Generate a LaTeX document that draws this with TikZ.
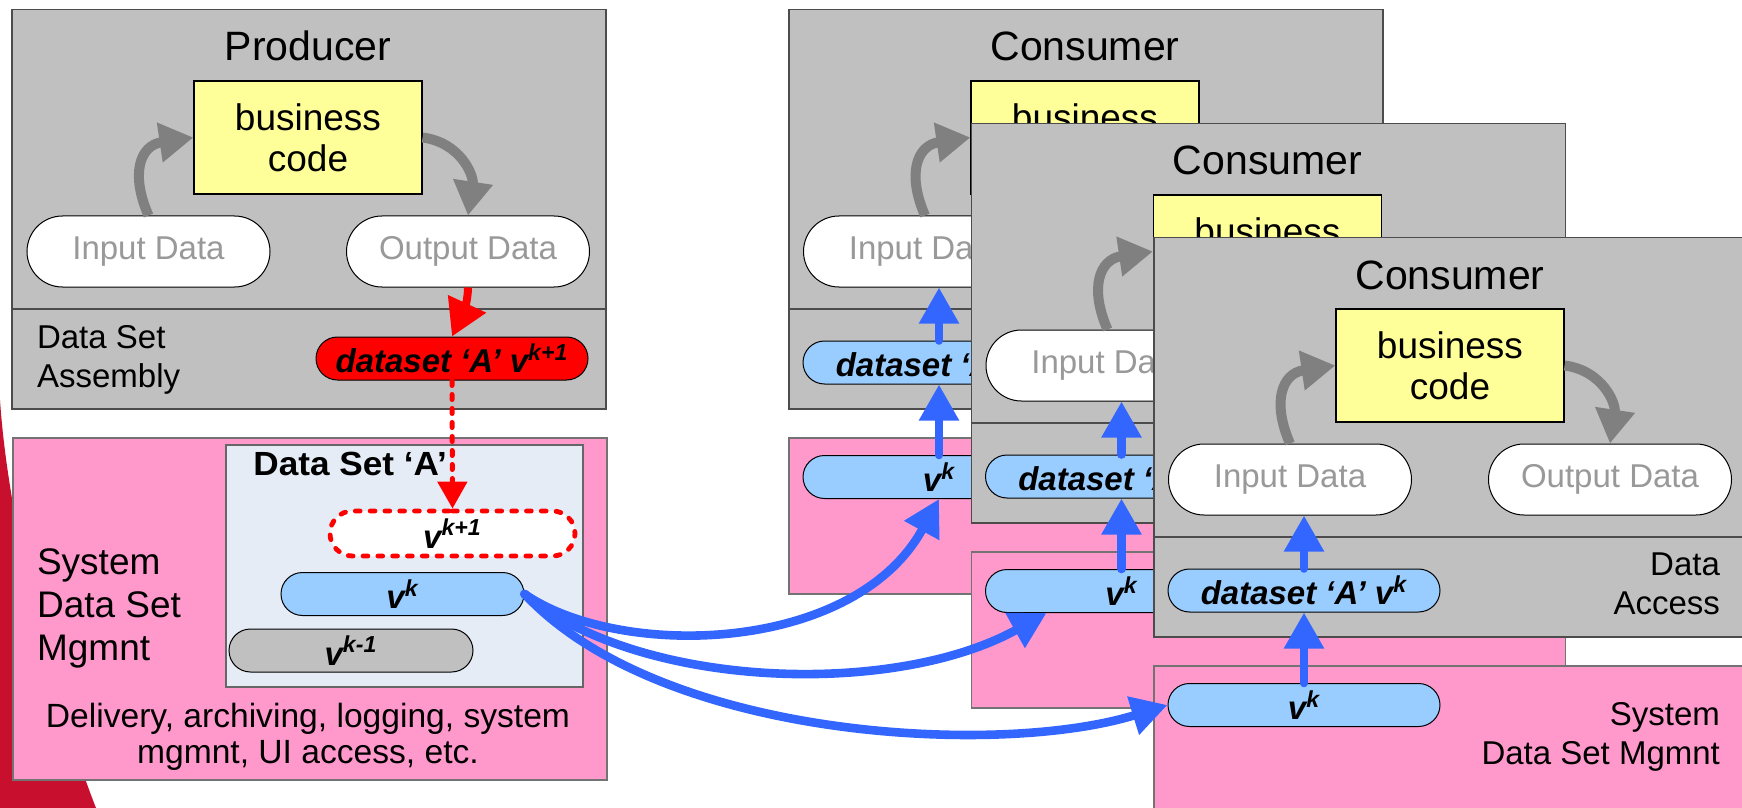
\documentclass[tikz,border=0pt]{standalone}
\usepackage{graphicx}
\usepackage{fontspec}
\setmainfont{Liberation Sans}
\usetikzlibrary{arrows.meta,shapes.misc,calc}

\definecolor{boxgray}{HTML}{C0C0C0}
\definecolor{codeyellow}{HTML}{FFFF99}
\definecolor{mgmtpink}{HTML}{FF99CC}
\definecolor{verblue}{HTML}{99CCFF}
\definecolor{flowblue}{HTML}{3366FF}
\definecolor{setbg}{HTML}{E6ECF6}
\definecolor{cyclegray}{HTML}{808080}
\definecolor{datatext}{HTML}{999999}
\definecolor{swoosh}{HTML}{C8102E}

\newcommand\fTitle{\fontsize{20.5}{24}\selectfont}
\newcommand\fCode{\fontsize{18.5}{20.5}\selectfont}
\newcommand\fData{\fontsize{16.5}{19}\selectfont}
\newcommand\fSide{\fontsize{16.5}{19.2}\selectfont}
\newcommand\fMgmt{\fontsize{18.5}{21.3}\selectfont}
\newcommand\fNote{\fontsize{16.8}{18}\selectfont}
\newcommand\fPill{\fontsize{16.5}{19}\selectfont\bfseries\itshape}
\newcommand\ver[1]{v\textsuperscript{#1}}

\tikzset{
  panel/.style={draw=black!70, line width=0.75pt, inner sep=0pt, anchor=north west,
    minimum width=297pt},
  graypanel/.style={panel, fill=boxgray, minimum height=199.5pt},
  pinkpanel/.style={panel, fill=mgmtpink, draw=black!55},
  rule/.style={draw=black!70, line width=0.75pt},
  codebox/.style={draw=black, line width=0.6pt, fill=codeyellow, minimum width=114pt,
    minimum height=56.5pt, align=center, font=\fCode, inner sep=0pt},
  pill/.style={rounded rectangle, draw=black, line width=0.5pt, inner sep=0pt},
  datapill/.style={pill, fill=white, minimum width=121.5pt, minimum height=35.5pt,
    text=datatext, font=\fData},
  verpill/.style={pill, fill=verblue, minimum width=121.5pt, minimum height=21.5pt,
    font=\fPill},
  bluearrow/.style={draw=flowblue, line width=4.3pt, line cap=round,
    -{Triangle[length=18pt,width=19pt]}},
  redarrow/.style={draw=red, line width=4pt,
    -{Triangle[length=18pt,width=20pt]}},
  reddots/.style={draw=red, line width=2.5pt, line cap=round, dash pattern=on 2.5pt off 4.5pt,
    -{Triangle[length=13.5pt,width=14.5pt]}},
  grayarrow/.style={draw=cyclegray, line width=5pt,
    -{Triangle[length=17pt,width=19pt]}},
}

\begin{document}
\begin{tikzpicture}[x=0.5pt,y=-0.5pt]
\path[use as bounding box, fill=white] (0,0) rectangle (1742,808);

% red swoosh behind the producer side
\fill[swoosh] (0,400) .. controls (8,520) and (50,690) .. (96,808) -- (0,808) -- cycle;

% ---------------- Producer ----------------
\node[graypanel] (prod) at (11,9) {};
\draw[rule] (11,309) -- (605,309);
\node[font=\fTitle, anchor=base] (prod-title) at (308,61) {Producer};
\node[codebox] (prod-code) at (308,137.5) {business\\code};
\node[datapill] (prod-in) at (148.5,251.5) {Input Data};
\node[datapill] (prod-out) at (468,251.5) {Output Data};
\node[font=\fSide, align=left, anchor=base west] (prod-assembly) at (30,387) {Data Set\\Assembly};
\node[pill, fill=red, minimum width=136pt, minimum height=21.5pt, font=\fPill] (prod-new) at (452,358.5) {dataset ‘A’ \ver{k+1}};

\draw[grayarrow] (prod-in.north) .. controls +(-18,-41) and +(-54,8) .. (prod-code.west);
\draw[grayarrow] (prod-code.east) .. controls +(38,5) and +(6,-40) .. (prod-out.north);
\draw[redarrow] (prod-out.south) .. controls +(0,12) and +(12,-26) .. (prod-new.north);

% system data set management of the producer
\node[pinkpanel, minimum height=171pt] (prod-mgmt) at (12,437) {};
\node[panel, fill=setbg, draw=black!60, minimum width=178.5pt, minimum height=121pt] (prod-set) at (225,444) {};
\node[font=\fontsize{16.75}{20}\selectfont\bfseries, anchor=base west, inner sep=0pt] (prod-set-title) at (253,475) {\scalebox{1.05}[1]{Data Set ‘A’}};
\node[pill, draw=red, fill=white, line width=2.4pt, line cap=round, dash pattern=on 2.4pt off 5pt,
  minimum width=122.5pt, minimum height=22.5pt, font=\fPill] (prod-next) at (452.5,533.5) {\ver{k+1}};
\node[verpill] (prod-cur) at (402.5,594) {\ver{k}};
\node[pill, fill=boxgray, minimum width=122pt, minimum height=21.5pt, font=\fPill] (prod-old) at (351,650.5) {\ver{k-1}};
\node[font=\fMgmt, align=left, anchor=base west] (prod-sys) at (30,660) {System\\Data Set\\Mgmnt};
\node[font=\fNote, align=center, anchor=base] (prod-note) at (308,763) {Delivery, archiving, logging, system\\mgmnt, UI access, etc.};

\draw[reddots] (prod-new.south) -- (prod-next.north);

% ---------------- Consumers (back to front) ----------------
\foreach \i/\ox/\oy in {1/788/9,2/970.5/123,3/1153/237}{
  \node[graypanel] (c\i) at (\ox,\oy) {};
  \draw[rule] ({\ox},{\oy+300}) -- ({\ox+594},{\oy+300});
  \node[font=\fTitle, anchor=base] (c\i-title) at ({\ox+297},{\oy+52}) {Consumer};
  \node[codebox] (c\i-code) at ({\ox+297},{\oy+128.5}) {business\\code};
  \node[datapill] (c\i-in) at ({\ox+137},{\oy+242.5}) {Input Data};
  \node[datapill] (c\i-out) at ({\ox+457},{\oy+242.5}) {Output Data};
  \node[verpill, minimum width=136pt] (c\i-ds) at ({\ox+151},{\oy+353.5}) {dataset ‘A’ \ver{k}};
  \node[pinkpanel, minimum height=78pt] (c\i-mgmt) at ({\ox},{\oy+428}) {};
  \node[verpill, minimum width=136pt] (c\i-cur) at ({\ox+151},{\oy+468}) {\ver{k}};
  \draw[grayarrow] (c\i-in.north) .. controls +(-18,-41) and +(-54,8) .. (c\i-code.west);
  \draw[grayarrow] (c\i-code.east) .. controls +(38,5) and +(6,-40) .. (c\i-out.north);
  \draw[bluearrow] (c\i-cur.north) -- (c\i-ds.south);
  \draw[bluearrow] (c\i-ds.north) -- (c\i-ds.north |- c\i-in.south);
}
% side labels of the front consumer (the others are covered)
\node[font=\fSide, align=right, anchor=base east] (c3-access) at (1727,614) {Data\\Access};
\node[font=\fSide, align=right, anchor=base east] (c3-sys) at (1727,764) {System\\Data Set Mgmnt};

% ---------------- Delivery of version k ----------------
\coordinate (c2-land) at ($(c2-cur.south)+(-75,0)$);
\draw[bluearrow] (prod-cur.east) .. controls +(96,66) and +(-85,155) .. (c1-cur.south);
\draw[bluearrow] (prod-cur.east) .. controls +(116,96) and +(-151,84) .. (c2-land);
\draw[bluearrow] (prod-cur.east) .. controls +(136,146) and +(-168,52) .. (c3-cur.west);
\end{tikzpicture}
\end{document}
